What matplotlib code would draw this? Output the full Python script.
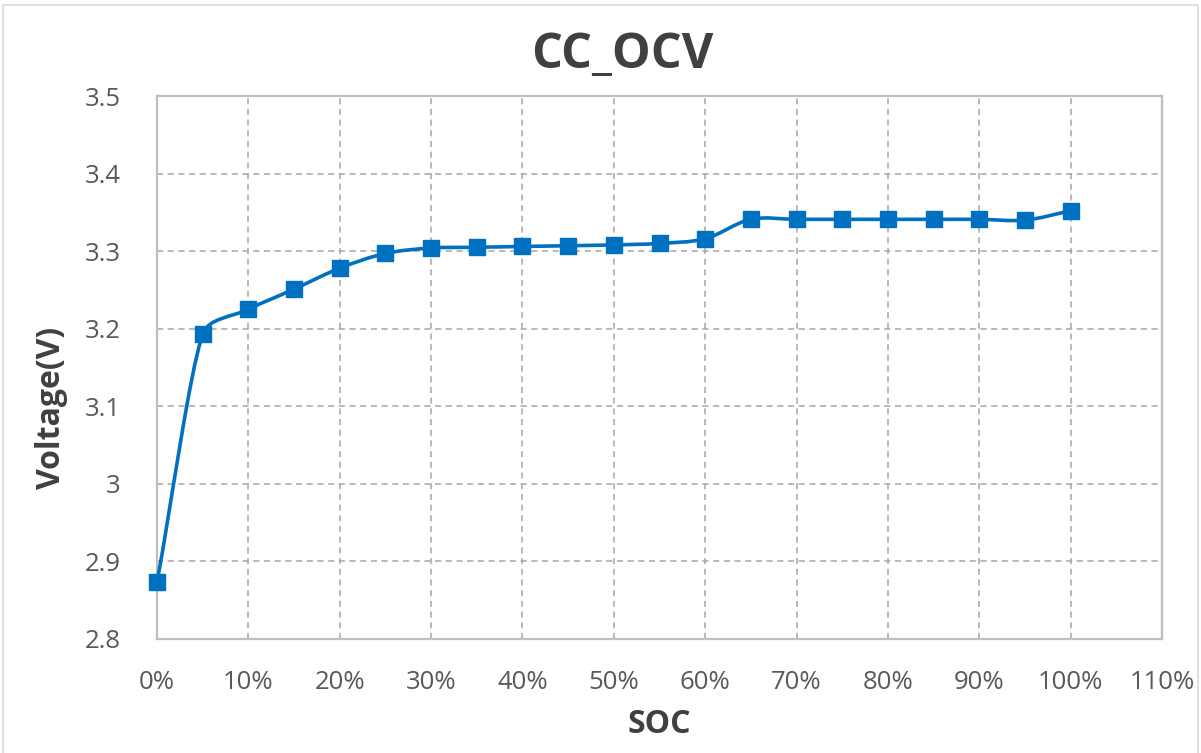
import numpy as np
import matplotlib
matplotlib.use("Agg")
import matplotlib.pyplot as plt
from matplotlib.path import Path
from matplotlib.patches import PathPatch, Rectangle
from matplotlib.ticker import FuncFormatter

plt.rcParams['font.family'] = ['Open Sans', 'DejaVu Sans']

# data
soc = [0.00, 0.05, 0.10, 0.15, 0.20, 0.25, 0.30, 0.35, 0.40, 0.45, 0.50,
       0.55, 0.60, 0.65, 0.70, 0.75, 0.80, 0.85, 0.90, 0.95, 1.00]
voltage = [2.873, 3.193, 3.225, 3.251, 3.278, 3.297, 3.304, 3.305, 3.306, 3.307, 3.308,
           3.310, 3.316, 3.341, 3.341, 3.341, 3.341, 3.341, 3.341, 3.340, 3.352]
x_ticks = [0.0, 0.1, 0.2, 0.3, 0.4, 0.5, 0.6, 0.7, 0.8, 0.9, 1.0, 1.1]
y_ticks = [2.8, 2.9, 3.0, 3.1, 3.2, 3.3, 3.4, 3.5]

blue = '#0070c0'
grid_c = '#a6a6a6'
text_c = '#595959'


def smooth_path(x, y, sx, sy):
    # excel style smoothed line, tangents worked out in screen-like units
    p = np.column_stack([np.asarray(x) * sx, np.asarray(y) * sy])
    n = len(p)
    seglen = np.hypot(*np.diff(p, axis=0).T)
    tang = []
    for i in range(n):
        d = p[min(i + 1, n - 1)] - p[max(i - 1, 0)]
        tang.append(d / np.hypot(*d))

    def reach(i, side):
        # side=+1 toward next point, -1 toward previous one
        own = seglen[i] if side > 0 else seglen[i - 1]
        other_i = i - 1 if side > 0 else i
        other = seglen[other_i] if 0 <= other_i < n - 1 else own
        return min(own, 2.5 * other) / 3

    verts = [p[0]]
    codes = [Path.MOVETO]
    for i in range(n - 1):
        c1 = p[i] + tang[i] * reach(i, 1)
        c2 = p[i + 1] - tang[i + 1] * reach(i + 1, -1)
        verts += [c1, c2, p[i + 1]]
        codes += [Path.CURVE4] * 3
    verts = np.array(verts) / [sx, sy]
    return Path(verts, codes)


fig = plt.figure(figsize=(12.01, 7.53), dpi=100)
ax = fig.add_axes([157 / 1201, 1 - 639 / 753, (1162 - 157) / 1201, (639 - 96) / 753])

ax.set_xlim(0, 1.1)
ax.set_ylim(2.8, 3.5)
ax.add_patch(PathPatch(smooth_path(soc, voltage, 1005 / 1.1, 543 / 0.7), facecolor='none',
                       edgecolor=blue, lw=2.6, zorder=3, capstyle='round'))
ax.plot(soc, voltage, ls='none', marker='s', ms=11, color=blue, zorder=4, clip_on=False)

ax.set_xticks(x_ticks)
ax.set_yticks(y_ticks)
ax.xaxis.set_major_formatter(FuncFormatter(lambda v, _: f"{v * 100:.0f}%"))
ax.yaxis.set_major_formatter(FuncFormatter(lambda v, _: f"{v:g}"))
ax.tick_params(length=0, labelsize=18.5, labelcolor=text_c)
ax.tick_params(axis='x', pad=22)
ax.tick_params(axis='y', pad=26)

ax.grid(True, color=grid_c, ls=(0, (4, 3)), lw=1.1)
ax.set_axisbelow(True)
for s in ax.spines.values():
    s.set_color('#bfbfbf')
    s.set_linewidth(1.6)

fig.text(622 / 1201, 1 - 55 / 753, 'CC_OCV', fontsize=35, fontweight='bold',
         color='#404040', ha='center', va='center')
ax.set_xlabel('SOC', fontsize=23, fontweight='bold', color='#404040', labelpad=10)
ax.set_ylabel('Voltage(V)', fontsize=23, fontweight='bold', color='#404040')
ax.yaxis.set_label_coords(-0.089, 0.425)

# chart area border
fig.add_artist(Rectangle((3 / 1201, -0.01), 1195 / 1201, 1 - 5 / 753 + 0.01,
                         transform=fig.transFigure, fill=False, ec='#d9d9d9', lw=1.2))

fig.savefig('out.png', dpi=100)
